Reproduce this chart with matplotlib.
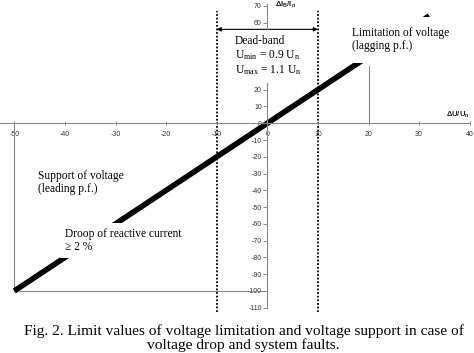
import matplotlib
matplotlib.use('Agg')
import matplotlib.pyplot as plt

# ---------------- data ----------------
u_line = [-50, 32]          # dU/Un (%)
i_line = [-100, 64]         # dIB/In (%)
deadband = [-10, 10]
rect_left_u = [-50, -50, 0]
rect_left_i = [0, -100, -100]
rect_right_u = [20, 20]
rect_right_i = [0, 34]
xticks = list(range(-50, 41, 10))
yticks = list(range(-110, 71, 10))
hidden_yticks = [30, 40, 50]   # covered by the dead-band text box

plt.rcParams['axes.unicode_minus'] = False
plt.rcParams['mathtext.fontset'] = 'custom'
plt.rcParams['mathtext.rm'] = 'Liberation Serif'
plt.rcParams['mathtext.it'] = 'Liberation Serif:italic'
plt.rcParams['mathtext.bf'] = 'Liberation Sans:bold'

fig = plt.figure(figsize=(4.74, 3.53), dpi=100)
ax = fig.add_axes([0, 0, 1, 1])
ax.set_xlim(-52.83, 40.85)
ax.set_ylim(-137.0, 73.5)
ax.patch.set_alpha(0)

# axes through origin
for s in ['top', 'right']:
    ax.spines[s].set_visible(False)
ax.spines['left'].set_position(('data', 0))
ax.spines['bottom'].set_position(('data', 0))
ax.spines['left'].set_bounds(-110, 71)
ax.spines['bottom'].set_bounds(-52.83, 40)
for s in ['left', 'bottom']:
    ax.spines[s].set_color('#8a8a8a')
    ax.spines[s].set_linewidth(0.8)

ax.set_xticks(xticks)
ax.set_xticklabels([str(v) for v in xticks])
ax.set_yticks(yticks)
ax.set_yticklabels(['' if v in hidden_yticks else str(v) for v in yticks])
ax.tick_params(axis='x', direction='inout', length=3, width=0.6, color='#777777',
               labelsize=5, labelcolor='#333333', pad=4)
ax.tick_params(axis='y', direction='out', length=3, width=0.6, color='#777777',
               labelsize=5, labelcolor='#333333', pad=1)
for lab in ax.get_xticklabels() + ax.get_yticklabels():
    lab.set_family('Liberation Sans')

# thin grey boundaries
ax.plot(rect_left_u, rect_left_i, color='#8a8a8a', lw=0.8, zorder=2)
ax.plot(rect_right_u, rect_right_i, color='#8a8a8a', lw=0.8, zorder=2)

# dead-band limits
for u in deadband:
    ax.plot([u, u], [-112.5, 67], color='black', lw=1.3, ls=(0, (1, 1)), zorder=2)
ax.annotate('', xy=(deadband[0], 56), xytext=(deadband[1], 56),
            arrowprops=dict(arrowstyle='<|-|>', color='black', lw=0.8,
                            mutation_scale=6, shrinkA=0, shrinkB=0), zorder=2)

# characteristic
ax.plot(u_line, i_line, color='black', lw=4.0, solid_capstyle='butt', zorder=2.5)

# axis titles
ax.text(1.5, 70.5, r'$\mathbf{\Delta I_B/I_n}$', fontsize=5.5, color='#222222',
        ha='left', va='center')
ax.text(40, 5, r'$\mathbf{\Delta U/U_n}$', fontsize=5.5, color='#222222',
        ha='right', va='center')

serif = 'Liberation Serif'
box = dict(facecolor='white', edgecolor='none', boxstyle='square,pad=0.4')
ax.text(-6.4, 52.7, 'Dead-band\nU$_{\\mathrm{min}}$ = 0.9 U$_{\\mathrm{n}}$\n'
        'U$_{\\mathrm{max}}$ = 1.1 U$_{\\mathrm{n}}$',
        family=serif, fontsize=8.3, ha='left', va='top', zorder=4,
        bbox=dict(facecolor='white', edgecolor='none', boxstyle='square,pad=0.5'),
        linespacing=1.15)
ax.text(16.7, 57.4, 'Limitation of voltage\n(lagging p.f.)', family=serif,
        fontsize=8.3, ha='left', va='top', zorder=4, linespacing=1.15,
        bbox=dict(facecolor='white', edgecolor='none', boxstyle='square,pad=0.9'))
ax.text(-45.3, -27.8, 'Support of voltage\n(leading p.f.)', family=serif,
        fontsize=8.3, ha='left', va='top', zorder=4, bbox=box, linespacing=1.15)
ax.text(-40.0, -62.4, 'Droop of reactive current\n\u2265 2 %', family=serif,
        fontsize=8.3, ha='left', va='top', zorder=4, bbox=box, linespacing=1.15)

fig.text(0.514, 0.043, 'Fig. 2. Limit values of voltage limitation and voltage support in case of\n'
         'voltage drop and system faults.', family=serif, fontsize=11.1,
         ha='center', va='center', linespacing=1.0)

fig.savefig('out.png', dpi=100)
